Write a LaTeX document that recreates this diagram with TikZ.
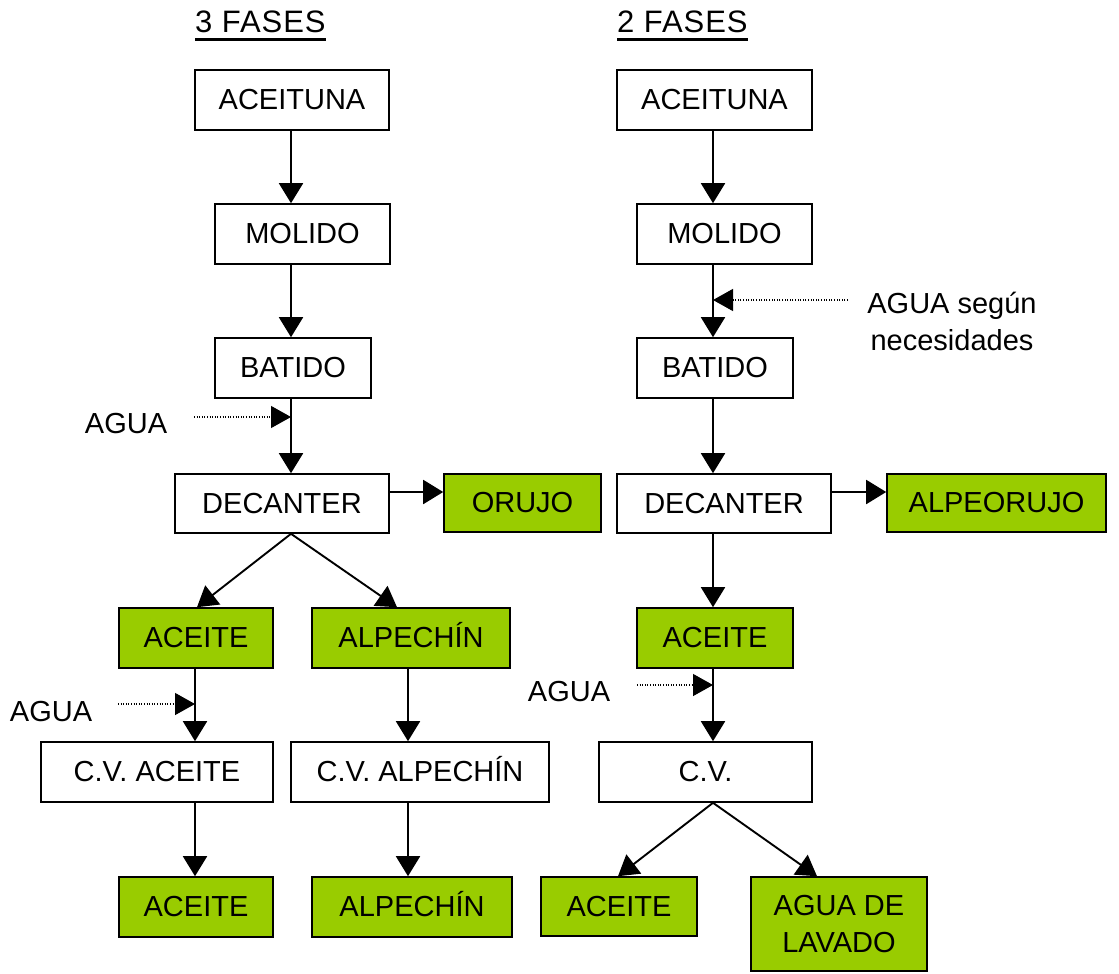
\documentclass[tikz,border=0pt]{standalone}
\usepackage{fontspec}
\setmainfont{Liberation Sans}
\newfontfamily\titlefont[LetterSpace=3]{Liberation Sans}
\usetikzlibrary{arrows.meta}
\definecolor{oilgreen}{HTML}{99CC00}
\tikzset{
  every node/.style={font=\fontsize{29}{37}\selectfont},
  box/.style={draw=black, line width=1.6pt, fill=white, inner sep=0pt, minimum height=60pt},
  gbox/.style={box, fill=oilgreen},
  flow/.style={line width=1.9pt, -{Triangle[length=20pt,width=24pt]}},
  water/.style={line width=1.3pt, dash pattern=on 1pt off 1.6pt, -{Triangle[length=20pt,width=22pt]}},
  lbl/.style={inner sep=0pt},
  ttl/.style={inner sep=0pt, anchor=base west, font=\fontsize{31}{37}\titlefont}
}
\begin{document}
\begin{tikzpicture}[x=1pt,y=-1pt]
\path[use as bounding box] (0,0) rectangle (1119,974);

% titles
\node[ttl] (t3) at (195,33) {3 FASES};
\draw[line width=2.6pt] ([yshift=-6.5pt]t3.base west) -- ([yshift=-6.5pt]t3.base east);
\node[ttl] (t2) at (617,33) {2 FASES};
\draw[line width=2.6pt] ([yshift=-6.5pt]t2.base west) -- ([yshift=-6.5pt]t2.base east);

% spines
\coordinate (L) at (291,0);
\coordinate (R) at (713,0);
\coordinate (LA) at (195,0);
\coordinate (LB) at (408,0);

% ---------- 3 FASES ----------
\node[box, minimum width=194pt] (a1) at (292,100) {ACEITUNA};
\node[box, minimum width=175pt] (m1) at (302.5,234) {MOLIDO};
\node[box, minimum width=156pt] (b1) at (293,368) {BATIDO};
\node[box, minimum width=214pt, minimum height=59pt] (d1) at (282,503.5) {DECANTER};
\node[gbox, minimum width=157pt, minimum height=58pt] (o1) at (522.5,503) {ORUJO};
\node[gbox, minimum width=154pt] (e1) at (196,638) {ACEITE};
\node[gbox, minimum width=198pt] (p1) at (411,638) {ALPECH\smash{Í}N};
\node[box, minimum width=232pt] (cva) at (157,772) {C.V. ACEITE};
\node[box, minimum width=258pt] (cvp) at (420,772) {C.V. ALPECH\smash{Í}N};
\node[gbox, minimum width=154pt] (e2) at (196,907) {ACEITE};
\node[gbox, minimum width=200pt] (p2) at (412,907) {ALPECH\smash{Í}N};
\node[lbl] (w1) at (126,424) {AGUA};
\node[lbl] (w2) at (51,712) {AGUA};
\coordinate (w1s) at (194,417);
\coordinate (w2s) at (118,704);

\draw[flow] (L |- a1.south) -- (L |- m1.north);
\draw[flow] (L |- m1.south) -- (L |- b1.north);
\draw[flow] (L |- b1.south) -- (L |- d1.north);
\draw[water] (w1s) -- (L |- w1s);
\draw[flow] ([yshift=11.5pt]d1.east) -- ([yshift=11pt]o1.west);
\draw[flow] (L |- d1.south) -- ([xshift=1pt]e1.north);
\draw[flow] (L |- d1.south) -- ([xshift=-14pt]p1.north);
\draw[flow] (LA |- e1.south) -- (LA |- cva.north);
\draw[water] (w2s) -- (LA |- w2s);
\draw[flow] (LB |- p1.south) -- (LB |- cvp.north);
\draw[flow] (LA |- cva.south) -- (LA |- e2.north);
\draw[flow] (LB |- cvp.south) -- (LB |- p2.north);

% ---------- 2 FASES ----------
\node[box, minimum width=195pt] (a2) at (714.5,100) {ACEITUNA};
\node[box, minimum width=175pt] (m2) at (724.5,234) {MOLIDO};
\node[box, minimum width=156pt] (b2) at (715,368) {BATIDO};
\node[box, minimum width=214pt, minimum height=59pt] (d2) at (724,503.5) {DECANTER};
\node[gbox, minimum width=219pt, minimum height=58pt] (o2) at (996.5,503) {ALPEORUJO};
\node[gbox, minimum width=156pt] (e3) at (715,638) {ACEITE};
\node[box, minimum width=213pt] (cv) at (705.5,772) {C.V.};
\node[gbox, minimum width=156pt, minimum height=59pt] (e4) at (619,906.5) {ACEITE};
\node[gbox, minimum width=176pt, minimum height=94pt, align=center] (lav) at (839,924) {AGUA DE\\LAVADO};
\node[lbl, align=center] (w3) at (952,321) {AGUA según\\necesidades};
\node[lbl] (w4) at (569,692) {AGUA};
\coordinate (w3s) at (848,300);
\coordinate (w4s) at (637,685);

\draw[flow] (R |- a2.south) -- (R |- m2.north);
\draw[flow] (R |- m2.south) -- (R |- b2.north);
\draw[water] (w3s) -- (R |- w3s);
\draw[flow] (R |- b2.south) -- (R |- d2.north);
\draw[flow] ([yshift=11.5pt]d2.east) -- ([yshift=11pt]o2.west);
\draw[flow] (R |- d2.south) -- (R |- e3.north);
\draw[flow] (R |- e3.south) -- (R |- cv.north);
\draw[water] (w4s) -- (R |- w4s);
\draw[flow] (R |- cv.south) -- ([xshift=-1pt]e4.north);
\draw[flow] (R |- cv.south) -- ([xshift=-22pt]lav.north);
\end{tikzpicture}
\end{document}
